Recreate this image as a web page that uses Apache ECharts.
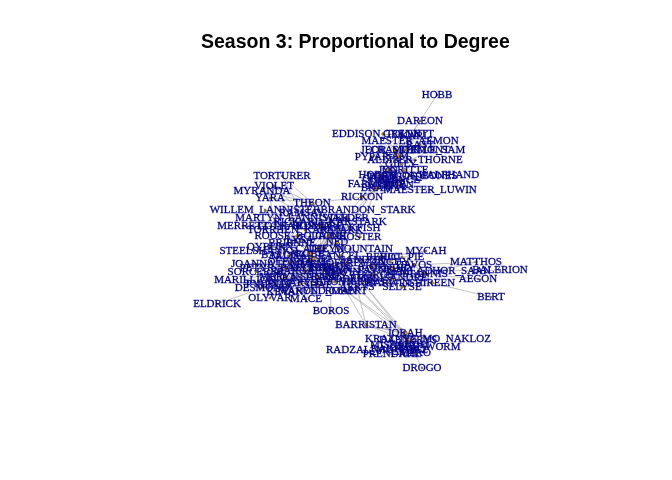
<!DOCTYPE html>
<html>
<head>
<meta charset="utf-8">
<script src="https://cdn.jsdelivr.net/npm/echarts@6/dist/echarts.min.js"></script>
<style>
html, body { margin: 0; padding: 0; background: #fff; }
#main { width: 672px; height: 480px; }
</style>
</head>
<body>
<div id="main"></div>
<script>
// character names and their layout position
var names = [
  'HOBB','DAREON','EDDISON_TOLLETT','GRENN','MAESTER_AEMON','CRASTER','LITTLE_SAM','PYPAR','SAM','GILLY',
  'JON','YGRITTE','TORMUND','ORELL','HODOR','LORD_OF_BONES','HALFHAND','FARMER','OSHA','JOJEN',
  'MEERA','BRAN','MAESTER_LUWIN','RICKON','TORTURER','VIOLET','MYRANDA','YARA','THEON','WILLEM_LANNISTER',
  'BRANDON_STARK','MARTYN_LANNISTER','WALDER','RAMSAY','MERRETT','LOTHAR','EDMURE','BLACKFISH','ROOSE_BOLTON','JAIME',
  'BRIENNE','NED','STEELSHANKS','QYBURN','THE_MOUNTAIN','MYCAH','BERIC','HOT_PIE','CATELYN','ROBB',
  'TALISA','JOANNA','OLENNA','CERSEI','SANDOR','JOFFREY','ARYA','DAVOS','MATTHOS','GENDRY',
  'TYRION','PETYR_BAELISH','MARGAERY','SORCERER','TYWIN','SALLADHOR_SAAN','BALERION','STANNIS','THOROS','MELISANDRE',
  'AEGON','SANSA','LORAS','MARILLION','PODRICK','VARYS','BRONN','SHAE','PYCELLE','SHIREEN',
  'VISERYS','AERYS','SELYSE','DESMOND','MARYN','OLD_MAN','ROBERT','KEVAN','OLYVAR','MACE',
  'BERT','ELDRICK','BOROS','BARRISTAN','JORAH','DAENERYS','KRAZNYS_MO_NAKLOZ','MISSANDEI','GREY_WORM','RADZAL_MO_ERAZ',
  'PRENDAHL','MERO','DROGO',
  'RICKARD_KARSTARK','TORRHEN_KARSTARK','ROSLIN','HOSTER','LYSA','LANCEL','TOMMEN','MYRCELLA','ILYN_PAYNE','MERYN_TRANT',
  'ROS','ANGUY','LEM','HARWIN','BALON','RENLY','ALLISER_THORNE','MANCE','KARL','RAST',
  'JEOR_MORMONT','IRRI','RAKHARO'
];
var posX = [
  437,420,383,402,410,395,432,372,397,401,
  388,405,395,380,378,412,449,370,392,398,
  386,376,430,362,282,274,262,270,312,265,
  368,292,346,302,243,280,320,350,297,330,
  292,337,258,270,350,426,382,402,320,310,
  288,253,290,312,362,345,372,414,476,392,
  330,283,305,256,342,440,500,425,372,392,
  478,318,285,245,352,300,335,318,270,432,
  362,357,402,262,298,330,346,285,270,306,
  491,217,331,366,405,408,428,400,425,377,
  392,415,422,
  330,305,312,360,300,340,300,320,360,300,
  335,390,398,388,280,275,415,400,415,420,
  405,405,398
];
var posY = [
  95,121,134,134,141,150,150,157,156,164,
  170,170,177,179,175,176,175,184,183,185,
  186,188,190,197,176,186,191,198,203,210,
  210,218,218,213,226,226,226,228,236,236,
  243,242,251,247,249,251,257,257,249,254,
  256,264,262,259,260,263,266,265,262,268,
  267,268,271,272,272,271,270,274,275,278,
  279,277,278,280,279,283,282,285,284,283,
  282,287,287,288,291,291,291,292,298,299,
  297,304,311,325,333,340,339,345,347,350,
  354,353,368,
  222,230,226,237,240,256,264,268,270,277,
  275,262,272,283,255,285,160,180,136,145,
  150,347,349
];

var edges = [
  ['HOBB','SAM'],['DAREON','SAM'],['SAM','GILLY'],['SAM','CRASTER'],['SAM','PYPAR'],['SAM','GRENN'],
  ['SAM','EDDISON_TOLLETT'],['SAM','MAESTER_AEMON'],['SAM','LITTLE_SAM'],['SAM','JON'],['GILLY','LITTLE_SAM'],
  ['CRASTER','GILLY'],['CRASTER','EDDISON_TOLLETT'],['CRASTER','GRENN'],['GRENN','EDDISON_TOLLETT'],['PYPAR','GRENN'],
  ['JON','YGRITTE'],['JON','TORMUND'],['JON','ORELL'],['JON','HALFHAND'],['YGRITTE','TORMUND'],['YGRITTE','ORELL'],
  ['TORMUND','ORELL'],['LORD_OF_BONES','YGRITTE'],['JON','NED'],['JON','PYPAR'],
  ['BRAN','HODOR'],['BRAN','JOJEN'],['BRAN','MEERA'],['BRAN','OSHA'],['BRAN','RICKON'],['BRAN','FARMER'],
  ['BRAN','MAESTER_LUWIN'],['HODOR','MEERA'],['HODOR','JOJEN'],['HODOR','OSHA'],['HODOR','RICKON'],['JOJEN','MEERA'],
  ['OSHA','RICKON'],['MEERA','RICKON'],['BRAN','BRANDON_STARK'],['RICKON','THEON'],['BRAN','CATELYN'],['BRAN','NED'],
  ['THEON','TORTURER'],['THEON','YARA'],['THEON','VIOLET'],['THEON','MYRANDA'],['THEON','RAMSAY'],['RAMSAY','MYRANDA'],
  ['RAMSAY','VIOLET'],['RAMSAY','TORTURER'],['RAMSAY','ROOSE_BOLTON'],
  ['WILLEM_LANNISTER','MARTYN_LANNISTER'],['WILLEM_LANNISTER','ROBB'],['MARTYN_LANNISTER','ROBB'],['ROBB','TALISA'],
  ['ROBB','CATELYN'],['ROBB','WALDER'],['ROBB','EDMURE'],['ROBB','ROOSE_BOLTON'],['ROBB','BLACKFISH'],['ROBB','LOTHAR'],
  ['CATELYN','EDMURE'],['CATELYN','BLACKFISH'],['CATELYN','TALISA'],['CATELYN','WALDER'],['EDMURE','BLACKFISH'],
  ['WALDER','LOTHAR'],['LOTHAR','MERRETT'],['MERRETT','WALDER'],['MERRETT','EDMURE'],['CATELYN','BRANDON_STARK'],
  ['CATELYN','NED'],['ROBB','NED'],['CATELYN','RICKON'],
  ['JAIME','BRIENNE'],['JAIME','ROOSE_BOLTON'],['JAIME','STEELSHANKS'],['BRIENNE','STEELSHANKS'],['BRIENNE','ROOSE_BOLTON'],
  ['JAIME','QYBURN'],['JAIME','CATELYN'],['JAIME','CERSEI'],['JAIME','TYWIN'],['JAIME','ROBB'],['JAIME','AERYS'],
  ['BRIENNE','QYBURN'],['JAIME','TYRION'],
  ['ARYA','SANDOR'],['ARYA','GENDRY'],['ARYA','BERIC'],['ARYA','THOROS'],['ARYA','HOT_PIE'],['ARYA','MYCAH'],
  ['SANDOR','MYCAH'],['SANDOR','BERIC'],['SANDOR','THOROS'],['GENDRY','BERIC'],['GENDRY','THOROS'],['GENDRY','HOT_PIE'],
  ['BERIC','THOROS'],['ARYA','NED'],['SANDOR','THE_MOUNTAIN'],['ARYA','MELISANDRE'],['GENDRY','MELISANDRE'],
  ['BERIC','MELISANDRE'],['THOROS','MELISANDRE'],['SANDOR','JOFFREY'],
  ['STANNIS','DAVOS'],['STANNIS','MELISANDRE'],['STANNIS','SELYSE'],['STANNIS','SHIREEN'],['STANNIS','MATTHOS'],
  ['DAVOS','MATTHOS'],['DAVOS','SALLADHOR_SAAN'],['DAVOS','SHIREEN'],['DAVOS','MELISANDRE'],['DAVOS','GENDRY'],
  ['MELISANDRE','SELYSE'],['SELYSE','SHIREEN'],['STANNIS','AEGON'],['SHIREEN','BERT'],['STANNIS','GENDRY'],
  ['STANNIS','ROBERT'],['GENDRY','ROBERT'],['SALLADHOR_SAAN','BALERION'],
  ['TYRION','CERSEI'],['TYRION','TYWIN'],['TYRION','SANSA'],['TYRION','SHAE'],['TYRION','BRONN'],['TYRION','PODRICK'],
  ['TYRION','VARYS'],['TYRION','PETYR_BAELISH'],['TYRION','JOFFREY'],['TYRION','MARGAERY'],['TYRION','PYCELLE'],
  ['TYRION','OLENNA'],['TYRION','BOROS'],['TYRION','KEVAN'],['CERSEI','TYWIN'],['CERSEI','JOFFREY'],['CERSEI','MARGAERY'],
  ['CERSEI','SANSA'],['CERSEI','OLENNA'],['CERSEI','PETYR_BAELISH'],['CERSEI','LORAS'],['CERSEI','JOANNA'],
  ['TYWIN','JOANNA'],['TYWIN','JOFFREY'],['TYWIN','OLENNA'],['TYWIN','PYCELLE'],['TYWIN','KEVAN'],['TYWIN','MACE'],
  ['TYWIN','AERYS'],['TYWIN','ROBB'],['TYWIN','WALDER'],['JOFFREY','MARGAERY'],['JOFFREY','SANSA'],['JOFFREY','LORAS'],
  ['JOFFREY','ROBERT'],['SANSA','MARGAERY'],['SANSA','OLENNA'],['SANSA','LORAS'],['SANSA','SHAE'],['SANSA','PETYR_BAELISH'],
  ['MARGAERY','OLENNA'],['MARGAERY','LORAS'],['OLENNA','LORAS'],['OLENNA','VARYS'],['OLENNA','MACE'],['LORAS','OLYVAR'],
  ['LORAS','PETYR_BAELISH'],['VARYS','PETYR_BAELISH'],['VARYS','SORCERER'],['VARYS','SHAE'],['PETYR_BAELISH','OLYVAR'],
  ['PETYR_BAELISH','MARILLION'],['DESMOND','ELDRICK'],['PETYR_BAELISH','DESMOND'],['BRONN','PODRICK'],['BRONN','SHAE'],
  ['PODRICK','SHAE'],['PYCELLE','VARYS'],['MARYN','JOFFREY'],['OLD_MAN','VARYS'],
  ['ROBERT','CERSEI'],['ROBERT','NED'],['ROBERT','DAENERYS'],['ROBERT','BARRISTAN'],['ROBERT','JORAH'],
  ['AERYS','DAENERYS'],['AERYS','BARRISTAN'],['AERYS','JORAH'],['VISERYS','DAENERYS'],['VISERYS','JORAH'],['AERYS','ROBERT'],
  ['DAENERYS','JORAH'],['DAENERYS','BARRISTAN'],['DAENERYS','MISSANDEI'],['DAENERYS','KRAZNYS_MO_NAKLOZ'],
  ['DAENERYS','GREY_WORM'],['DAENERYS','PRENDAHL'],['DAENERYS','MERO'],['DAENERYS','RADZAL_MO_ERAZ'],['DAENERYS','DROGO'],
  ['JORAH','BARRISTAN'],['JORAH','MISSANDEI'],['JORAH','KRAZNYS_MO_NAKLOZ'],['BARRISTAN','KRAZNYS_MO_NAKLOZ'],
  ['MISSANDEI','KRAZNYS_MO_NAKLOZ'],['MISSANDEI','GREY_WORM'],['PRENDAHL','MERO'],['JORAH','PRENDAHL'],['JORAH','MERO'],
  ['RICKARD_KARSTARK','ROBB'],['RICKARD_KARSTARK','CATELYN'],['TORRHEN_KARSTARK','RICKARD_KARSTARK'],['TORRHEN_KARSTARK','ROBB'],
  ['ROSLIN','EDMURE'],['ROSLIN','WALDER'],['HOSTER','CATELYN'],['HOSTER','EDMURE'],['HOSTER','BLACKFISH'],
  ['LYSA','CATELYN'],['LYSA','PETYR_BAELISH'],['LANCEL','CERSEI'],['LANCEL','TYRION'],['TOMMEN','CERSEI'],
  ['MYRCELLA','CERSEI'],['TOMMEN','JOFFREY'],['ILYN_PAYNE','JOFFREY'],['MERYN_TRANT','JOFFREY'],['ROS','PETYR_BAELISH'],
  ['ROS','VARYS'],['ANGUY','ARYA'],['ANGUY','BERIC'],['LEM','ARYA'],['LEM','GENDRY'],['HARWIN','ARYA'],['HARWIN','BERIC'],
  ['BALON','THEON'],['BALON','YARA'],['RENLY','LORAS'],['RENLY','MARGAERY'],['RENLY','MELISANDRE'],
  ['ALLISER_THORNE','SAM'],['ALLISER_THORNE','JON'],['MANCE','JON'],['MANCE','TORMUND'],['MANCE','YGRITTE'],
  ['KARL','CRASTER'],['RAST','SAM'],['RAST','GRENN'],['JEOR_MORMONT','SAM'],['JEOR_MORMONT','CRASTER'],['JEOR_MORMONT','KARL'],
  ['IRRI','DAENERYS'],['RAKHARO','DAENERYS'],['IRRI','JORAH']
];

// degree of each character from the edge list
var degree = {};
names.forEach(function (n) { degree[n] = 0; });
edges.forEach(function (e) { degree[e[0]]++; degree[e[1]]++; });

var nodes = names.map(function (n, i) {
  return { name: n, value: [posX[i], posY[i]], symbolSize: 1.5 + degree[n] * 0.3 };
});
var links = edges.map(function (e) {
  return { source: e[0], target: e[1] };
});

var myChart = echarts.init(document.getElementById('main'));

var option = {
  animation: false,
  title: {
    text: 'Season 3: Proportional to Degree',
    left: 196,
    top: 28,
    textStyle: { fontFamily: 'Liberation Sans', fontWeight: 'bold', fontSize: 19.5, color: '#000' }
  },
  grid: { left: 0, right: 0, top: 0, bottom: 0 },
  xAxis: { type: 'value', min: 0, max: 672, show: false },
  yAxis: { type: 'value', min: 0, max: 480, inverse: true, show: false },
  series: [{
    type: 'graph',
    coordinateSystem: 'cartesian2d',
    data: nodes,
    links: links,
    itemStyle: { color: '#FFA500', borderColor: '#333', borderWidth: 0.6 },
    lineStyle: { color: '#A6A6A6', width: 0.7, opacity: 1 },
    label: {
      show: true,
      position: 'inside',
      color: '#00008B',
      fontFamily: 'Liberation Serif',
      fontSize: 11,
      textBorderColor: '#1a1a9a',
      textBorderWidth: 0.3
    },
    emphasis: { disabled: true }
  }]
};

myChart.setOption(option);
</script>
</body>
</html>
